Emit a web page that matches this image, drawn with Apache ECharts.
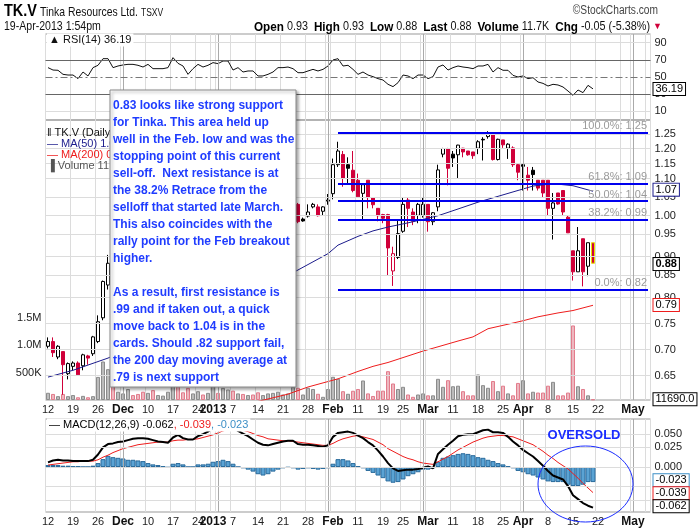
<!DOCTYPE html>
<html>
<head>
<meta charset="utf-8">
<script src="https://cdn.jsdelivr.net/npm/echarts@6/dist/echarts.min.js"></script>
<style>
  html, body { margin: 0; padding: 0; background: #fff; }
  #main { width: 700px; height: 530px; }
</style>
</head>
<body>
<div id="main"></div>
<script>
// trading calendar
var startDate = '2012-11-12';
var dayCount = 121;
var holidays = ['2012-12-25', '2012-12-26', '2013-01-01', '2013-02-18', '2013-03-29'];
var monthStarts = ['2012-12-03', '2013-01-02', '2013-02-01', '2013-03-01', '2013-04-01', '2013-05-01'];
var tickLabels = [
  ['2012-11-12', '12'], ['2012-11-19', '19'], ['2012-11-26', '26'], ['2012-12-03', 'Dec'],
  ['2012-12-10', '10'], ['2012-12-17', '17'], ['2012-12-24', '24'], ['2012-12-31', '2013'],
  ['2013-01-07', '7'], ['2013-01-14', '14'], ['2013-01-21', '21'], ['2013-01-28', '28'],
  ['2013-02-04', 'Feb'], ['2013-02-11', '11'], ['2013-02-19', '19'], ['2013-02-25', '25'],
  ['2013-03-04', 'Mar'], ['2013-03-11', '11'], ['2013-03-18', '18'], ['2013-03-25', '25'],
  ['2013-04-01', 'Apr'], ['2013-04-08', '8'], ['2013-04-15', '15'], ['2013-04-22', '22'],
  ['2013-05-01', 'May']
];

// daily prices, TK.V
var opens = [
  .704, .713, .684, .694, .654, .667, .673, .668, .686, .690,
  .713, .760, .830, .860, .850, .870, .880, .890, .885, .880,
  .870, .890, .870, .870, .875, .890, .970, .950, .930, .900,
  .930, .960, .950, .970, 1.000, .990, 1.030, 1.040, 1.000, 1.010,
  .990, 1.000, .990, .960, .960, .970, .990, 1.010, 1.010, 1.020,
  1.031, .991, .999, 1.024, 1.024, 1.012, 1.040, 1.061, 1.147, 1.179,
  1.147, 1.130, 1.100, 1.062, 1.100, 1.050, 1.020, 1.003, 1.003, .862,
  .894, .959, 1.043, 1.010, 1.001, 1.001, 1.031, .984, 1.024, 1.180,
  1.198, 1.180, 1.178, 1.199, 1.190, 1.187, 1.199, 1.228, 1.237, 1.248,
  1.163, 1.226, 1.199, 1.200, 1.147, 1.147, 1.115, 1.130, 1.100, 1.100,
  1.100, 1.020, 1.063, 1.070, .996, .910, .860, .940, .873, .930
];
var closes = [
  .713, .692, .704, .670, .672, .673, .652, .688, .682, .722,
  .752, .838, .880, .850, .870, .880, .890, .885, .880, .870,
  .890, .870, .870, .875, .880, .970, .950, .940, .900, .930,
  .960, .950, .970, 1.000, .990, 1.030, 1.040, 1.000, 1.010, .990,
  1.000, .990, .960, .960, .970, .990, 1.010, 1.010, 1.020, 1.030,
  .984, .986, 1.010, 1.031, 1.000, 1.024, 1.043, 1.147, 1.190, 1.106,
  1.136, 1.070, 1.052, 1.087, 1.050, 1.030, 1.000, .993, .917, .903,
  .953, 1.031, 1.020, .985, 1.031, 1.031, .984, 1.008, 1.131, 1.198,
  1.136, 1.168, 1.209, 1.187, 1.178, 1.175, 1.220, 1.226, 1.248, 1.163,
  1.228, 1.210, 1.212, 1.147, 1.124, 1.142, 1.100, 1.117, 1.077, 1.063,
  1.020, 1.035, 1.032, 1.010, .955, .860, .910, .860, .930, .880
];
var highs = [
  .721, .721, .706, .694, .674, .676, .676, .690, .688, .724,
  .765, .840, .900, .880, .880, .890, .900, .900, .890, .890,
  .900, .890, .880, .880, .890, .980, .980, .960, .940, .940,
  .970, .970, .980, 1.010, 1.010, 1.040, 1.050, 1.040, 1.020, 1.020,
  1.010, 1.000, .990, .970, .980, 1.000, 1.020, 1.020, 1.030, 1.040,
  1.035, .995, 1.031, 1.035, 1.031, 1.026, 1.060, 1.166, 1.220, 1.190,
  1.170, 1.190, 1.120, 1.090, 1.100, 1.050, 1.020, 1.005, 1.005, .920,
  .990, 1.050, 1.050, 1.020, 1.035, 1.050, 1.031, 1.010, 1.147, 1.200,
  1.200, 1.190, 1.210, 1.200, 1.190, 1.187, 1.225, 1.235, 1.255, 1.250,
  1.230, 1.226, 1.215, 1.205, 1.150, 1.150, 1.140, 1.140, 1.100, 1.100,
  1.100, 1.063, 1.063, 1.070, 1.000, .910, .970, .940, .930, .930
];
var lows = [
  .700, .684, .680, .618, .644, .660, .650, .660, .670, .686,
  .710, .755, .820, .830, .840, .860, .870, .870, .870, .860,
  .860, .860, .860, .860, .870, .890, .940, .930, .890, .900,
  .920, .940, .950, .960, .980, .990, 1.020, .990, .990, .980,
  .980, .970, .950, .950, .950, .960, .980, 1.000, 1.000, 1.010,
  .980, .984, .995, 1.020, .998, 1.000, 1.030, 1.045, 1.140, 1.081,
  1.088, 1.065, 1.050, .990, 1.020, 1.020, .985, .980, .852, .828,
  .890, .955, .970, .975, .980, .995, .958, .975, 1.012, 1.170,
  1.085, 1.140, 1.106, 1.170, 1.175, 1.165, 1.180, 1.160, 1.230, 1.160,
  1.160, 1.200, 1.165, 1.140, 1.100, 1.070, 1.070, 1.070, 1.070, 1.050,
  1.000, .938, 1.030, 1.000, .955, .840, .860, .827, .850, .880
];
var volumes = [
  131000, 110000, 70000, 110000, 70000, 90000, 50000, 75000, 50000, 70000,
  420000, 700000, 560000, 300000, 150000, 120000, 200000, 90000, 110000, 150000,
  130000, 180000, 90000, 80000, 150000, 600000, 250000, 140000, 220000, 120000,
  160000, 100000, 130000, 250000, 130000, 220000, 190000, 170000, 120000, 110000,
  90000, 100000, 140000, 90000, 120000, 130000, 150000, 100000, 120000, 240000,
  222000, 100000, 222000, 200000, 113000, 58000, 200000, 422000, 385000, 160000,
  113000, 168000, 200000, 355000, 120000, 73000, 170000, 170000, 524000, 300000,
  200000, 240000, 100000, 58000, 100000, 120000, 85000, 85000, 385000, 240000,
  360000, 250000, 260000, 160000, 85000, 85000, 464000, 270000, 222000, 345000,
  160000, 260000, 120000, 85000, 310000, 360000, 120000, 150000, 135000, 135000,
  260000, 330000, 85000, 85000, 135000, 1355000, 250000, 200000, 85000, 11690
];
// moving averages: [day index, value]
var ma50 = [[0, .648], [5, .660], [12, .682], [25, .740], [37, .800], [49, .858], [52, .877],
  [56, .903], [58, .924], [62, .946], [65, .960], [68, .970], [72, .981], [75, .990], [78, 1.000],
  [80, 1.009], [86, 1.037], [93, 1.066], [97, 1.083], [101, 1.090], [105, 1.084], [109, 1.068]];
var ma200 = [[42, .607], [48, .619], [52, .631], [55, .638], [58, .645], [62, .658], [65, .667],
  [68, .674], [75, .695], [78, .703], [82, .714], [85, .722], [88, .738], [92, .747], [95, .754],
  [98, .762], [102, .770], [105, .775], [109, .786]];
var rsi = [
  60.9, 58.1, 57.8, 53.1, 52.3, 52.3, 48.1, 55.8, 51.2, 60.9,
  63.6, 71.3, 71.3, 60.9, 62.8, 64.0, 64.7, 64.7, 63.6, 61.6,
  64.7, 59.7, 59.7, 59.7, 60.9, 72.5, 65.9, 62.8, 53.1, 59.7,
  64.7, 61.6, 63.6, 66.7, 65.5, 68.6, 68.6, 58.1, 60.9, 55.8,
  57.0, 57.0, 51.2, 51.2, 53.1, 55.8, 60.9, 60.9, 61.6, 59.7,
  55.0, 55.0, 57.0, 58.9, 57.0, 58.9, 62.8, 69.8, 71.3, 62.8,
  63.6, 58.9, 53.1, 55.8, 52.3, 50.4, 48.1, 46.5, 41.5, 38.8,
  43.4, 52.3, 51.2, 48.1, 52.3, 52.3, 48.1, 50.4, 61.6, 64.0,
  58.1, 60.9, 62.8, 61.6, 60.9, 59.7, 62.8, 62.8, 64.7, 55.8,
  60.9, 57.8, 57.8, 51.9, 50.0, 51.2, 48.1, 49.2, 44.2, 42.6,
  39.5, 41.5, 40.7, 38.4, 33.7, 28.7, 34.9, 31.8, 40.3, 36.19
];
var macd = [
  .007, .010, .011, .010, .010, .009, .009, .009, .009, .011,
  .019, .030, .035, .036, .038, .039, .041, .043, .044, .044,
  .043, .041, .039, .038, .037, .045, .049, .044, .042, .042,
  .047, .050, .054, .060, .065, .068, .068, .062, .055, .051,
  .047, .042, .037, .034, .033, .035, .037, .039, .040, .040,
  .035, .034, .034, .033, .032, .031, .033, .046, .052, .053,
  .054, .052, .048, .044, .038, .033, .025, .016, .006, -.002,
  -.006, -.005, -.004, -.004, -.003, -.001, .001, -.002, .020, .027,
  .034, .040, .047, .049, .050, .050, .053, .056, .057, .053,
  .053, .052, .046, .039, .033, .026, .021, .016, .009, .002,
  -.006, -.013, -.016, -.019, -.029, -.043, -.049, -.055, -.059, -.062
];
var signal = [
  .003, .004, .005, .006, .007, .008, .008, .009, .009, .009,
  .011, .015, .018, .022, .025, .028, .030, .032, .034, .035,
  .036, .037, .038, .038, .038, .040, .041, .041, .042, .042,
  .043, .045, .047, .049, .052, .055, .057, .058, .057, .056,
  .054, .051, .048, .046, .043, .042, .041, .040, .040, .039,
  .038, .037, .036, .035, .034, .033, .033, .036, .040, .043,
  .045, .047, .048, .046, .044, .042, .038, .034, .028, .024,
  .020, .016, .013, .011, .008, .006, .005, .004, .008, .012,
  .016, .021, .026, .030, .034, .038, .041, .044, .046, .047,
  .048, .048, .047, .046, .043, .040, .037, .034, .029, .024,
  .018, .013, .007, .002, -.003, -.010, -.017, -.025, -.032, -.039
];
var histogram = [
  .003, .003, .003, .002, .002, .001, .001, .000, .000, .002,
  .006, .012, .017, .015, .014, .013, .011, .011, .010, .009,
  .006, .004, .003, .001, -.001, .005, .006, .004, .000, .000,
  .004, .004, .005, .008, .009, .011, .009, .005, .000, -.002,
  -.004, -.007, -.011, -.013, -.011, -.007, -.004, -.002, -.001, -.002,
  -.004, -.003, -.002, -.003, -.004, -.003, -.002, .005, .012, .012,
  .010, .006, .001, -.002, -.006, -.009, -.013, -.017, -.022, -.024,
  -.023, -.019, -.014, -.011, -.008, -.004, -.004, -.002, .008, .014,
  .016, .018, .020, .021, .020, .018, .015, .014, .011, .009,
  .006, .004, .001, -.002, -.006, -.008, -.011, -.013, -.016, -.019,
  -.022, -.023, -.023, -.023, -.027, -.029, -.029, -.027, -.023, -.023
];
// Fibonacci retracement levels from Feb 5
var fibStart = 58;
var fibLevels = [['100.0%', 1.25], ['61.8%', 1.09], ['50.0%', 1.04], ['38.2%', 0.99], ['0.0%', 0.82]];
var priceTicks = [0.65, 0.70, 0.75, 0.80, 0.85, 0.90, 0.95, 1.00, 1.05, 1.10, 1.15, 1.20, 1.25];
var macdTicks = [0.05, 0.025, 0, -0.025, -0.05];
var noteLines = [
  '0.83 looks like strong support',
  'for Tinka. This area held up',
  'well in the Feb. low and was the',
  'stopping point of this current',
  'sell-off.  Next resistance is at',
  'the 38.2% Retrace from the',
  'selloff that started late March.',
  'This also coincides with the',
  'rally point for the Feb breakout',
  'higher.',
  '',
  'As a result, first resistance is',
  '.99 and if taken out, a quick',
  'move back to 1.04 is in the',
  'cards. Should .82 support fail,',
  'the 200 day moving average at',
  '.79 is next support'
];

var FONT = '"Liberation Sans", Arial, sans-serif';
var RED = '#d0003a';
var NAVY = '#1c1c8c';
var HIST = '#3d8fc6';

function buildDates() {
  var out = [];
  var d = new Date(startDate + 'T00:00:00Z');
  while (out.length < dayCount) {
    var s = d.toISOString().slice(0, 10);
    var wd = d.getUTCDay();
    if (wd !== 0 && wd !== 6 && holidays.indexOf(s) < 0) out.push(s);
    d.setUTCDate(d.getUTCDate() + 1);
  }
  return out;
}
var dates = buildDates();
var labelMap = {};
tickLabels.forEach(function (t) { labelMap[t[0]] = t[1]; });
var gridDay = dates.map(function (s, i) {
  if (i === 0) return true;
  var a = new Date(s + 'T00:00:00Z').getUTCDay();
  var b = new Date(dates[i - 1] + 'T00:00:00Z').getUTCDay();
  return a < b || monthStarts.indexOf(s) >= 0;
});

var ln = Math.log;
var LNMAX = ln(1.25) + 12.7 / 372;
var LNMIN = ln(1.25) - 267.3 / 372;
var last = opens.length - 1;

var candleData = opens.map(function (o, i) {
  var c = closes[i];
  var prev = i > 0 ? closes[i - 1] : o;
  var col = c < prev ? RED : '#000';
  var fill = c > o ? '#fff' : col;
  var border = i === last ? '#e8e000' : col;
  return {
    value: [ln(o), ln(c), ln(lows[i]), ln(highs[i])],
    itemStyle: { color: fill, color0: fill, borderColor: border, borderColor0: border }
  };
});
var volumeData = volumes.map(function (v, i) {
  var down = i > 0 && closes[i] < closes[i - 1];
  return {
    value: v,
    itemStyle: down ? { color: '#eeb8c0', borderColor: '#e27c8c', borderWidth: 1 }
                    : { color: '#bcbcbc', borderColor: '#8c8c8c', borderWidth: 1 }
  };
});

// last-value box on the right edge
function tag(y, text, border, bold) {
  return {
    yAxis: y,
    lineStyle: { color: 'rgba(0,0,0,0)', width: 0 },
    label: {
      show: true, position: 'end', distance: 3, formatter: text,
      backgroundColor: '#fff', borderColor: border, borderWidth: 1,
      padding: [1, 2, 0, 2], color: '#000', fontSize: 11, fontFamily: FONT,
      fontWeight: bold ? 'bold' : 'normal'
    }
  };
}
function monthLineData() {
  return monthStarts.map(function (m) {
    return { xAxis: m, lineStyle: { color: '#aaa', width: 1, type: 'solid' }, label: { show: false } };
  });
}

var xBase = function (gi, showLabels) {
  return {
    type: 'category', gridIndex: gi, data: dates, boundaryGap: true,
    axisLine: { show: false }, axisTick: { show: false },
    axisLabel: {
      show: showLabels, interval: function (i, v) { return labelMap[v] !== undefined; },
      formatter: function (v) {
        var t = labelMap[v] || '';
        return /^[A-Z]|2013/.test(t) ? '{b|' + t + '}' : t;
      },
      rich: { b: { fontWeight: 'bold', fontSize: 12, fontFamily: FONT, color: '#111' } },
      color: '#222', fontSize: 11, fontFamily: FONT, margin: 4
    },
    splitLine: { show: true, interval: function (i) { return gridDay[i]; }, lineStyle: { color: '#dcdcdc', width: 1 } }
  };
};

var priceGrid = priceTicks.map(function (p) {
  return {
    yAxis: ln(p), lineStyle: { color: '#dcdcdc', width: 1, type: 'solid' },
    label: { show: true, position: 'end', distance: 4, formatter: p.toFixed(2), color: '#222', fontSize: 11, fontFamily: FONT }
  };
});
var fibData = fibLevels.map(function (f) {
  return [
    { coord: [dates[fibStart], ln(f[1])] },
    { coord: [dates[dates.length - 1], ln(f[1])],
      label: { show: true, position: 'insideEndTop', formatter: f[0] + ': ' + f[1].toFixed(2), color: '#9a9a9a', fontSize: 11, fontFamily: FONT, distance: 1 } }
  ];
});
var macdGrid = macdTicks.map(function (v) {
  return {
    yAxis: v, lineStyle: { color: '#dcdcdc', width: 1, type: 'solid' },
    label: { show: true, position: 'end', distance: 4, formatter: v.toFixed(3), color: '#222', fontSize: 11, fontFamily: FONT }
  };
});

var chart = echarts.init(document.getElementById('main'));
chart.setOption({
  animation: false,
  backgroundColor: '#fff',
  grid: [
    { left: 45.5, top: 34, width: 605, height: 86, show: true, borderColor: '#999', borderWidth: 1 },
    { left: 45.5, top: 120, width: 605, height: 280, show: true, borderColor: '#999', borderWidth: 1 },
    { left: 45.5, top: 419, width: 605, height: 93, show: true, borderColor: '#999', borderWidth: 1 }
  ],
  xAxis: [xBase(0, false), xBase(1, true), xBase(2, true)],
  yAxis: [
    { type: 'value', gridIndex: 0, min: 0, max: 100, interval: 10, position: 'right',
      axisLine: { show: false }, axisTick: { show: false }, splitLine: { show: false },
      axisLabel: { formatter: function (v) { return v % 20 === 10 ? String(v) : ''; }, color: '#222', fontSize: 11, fontFamily: FONT, margin: 4 } },
    { type: 'value', gridIndex: 1, min: LNMIN, max: LNMAX, show: false },
    { type: 'value', gridIndex: 1, min: 0, max: 5090000, interval: 500000, position: 'left',
      axisLine: { show: false }, axisTick: { show: false }, splitLine: { show: false },
      axisLabel: { formatter: function (v) { return v === 500000 ? '500K' : v === 1000000 ? '1.0M' : v === 1500000 ? '1.5M' : ''; },
        color: '#222', fontSize: 11, fontFamily: FONT, margin: 4 } },
    { type: 'value', gridIndex: 2, min: -0.0686, max: 0.0732, show: false }
  ],
  series: [
    { name: 'RSI', type: 'line', xAxisIndex: 0, yAxisIndex: 0, data: rsi, symbol: 'none',
      lineStyle: { color: '#111', width: 1 }, z: 3,
      markLine: { silent: true, symbol: ['none', 'none'], animation: false,
        data: monthLineData().concat([
          { yAxis: 90, lineStyle: { color: '#dcdcdc', width: 1, type: 'solid' }, label: { show: false } },
          { yAxis: 10, lineStyle: { color: '#dcdcdc', width: 1, type: 'solid' }, label: { show: false } },
          { yAxis: 70, lineStyle: { color: '#666', width: 1, type: 'solid' }, label: { show: false } },
          { yAxis: 30, lineStyle: { color: '#666', width: 1, type: 'solid' }, label: { show: false } },
          { yAxis: 50, lineStyle: { color: '#777', width: 1, type: [7, 3, 2, 3] }, label: { show: false } },
          tag(rsi[last], rsi[last].toFixed(2), '#000', false)
        ]) } },
    { name: 'pricegrid', type: 'line', xAxisIndex: 1, yAxisIndex: 1, data: [], z: 1,
      markLine: { silent: true, symbol: ['none', 'none'], animation: false, data: priceGrid } },
    { name: 'Volume', type: 'bar', xAxisIndex: 1, yAxisIndex: 2, data: volumeData, barWidth: 4, z: 1,
      markLine: { silent: true, symbol: ['none', 'none'], animation: false,
        data: monthLineData().concat([tag(volumes[last], volumes[last].toFixed(1), '#000', false)]) } },
    { name: 'TK.V', type: 'candlestick', xAxisIndex: 1, yAxisIndex: 1, data: candleData, barWidth: 4, z: 3,
      markLine: { silent: true, symbol: ['none', 'none'], animation: false,
        lineStyle: { color: '#0000ee', width: 2, type: 'solid' },
        data: fibData.concat([tag(ln(closes[last]), closes[last].toFixed(2), '#000', true)]) } },
    { name: 'MA(50)', type: 'line', xAxisIndex: 1, yAxisIndex: 1, symbol: 'none', z: 4,
      data: ma50.map(function (p) { return [p[0], ln(p[1])]; }), lineStyle: { color: NAVY, width: 1 },
      markLine: { silent: true, symbol: ['none', 'none'], animation: false,
        data: [tag(ln(ma50[ma50.length - 1][1]), ma50[ma50.length - 1][1].toFixed(2), NAVY, false)] } },
    { name: 'MA(200)', type: 'line', xAxisIndex: 1, yAxisIndex: 1, symbol: 'none', z: 4,
      data: ma200.map(function (p) { return [p[0], ln(p[1])]; }), lineStyle: { color: '#ee1c1c', width: 1 },
      markLine: { silent: true, symbol: ['none', 'none'], animation: false,
        data: [tag(ln(ma200[ma200.length - 1][1]), ma200[ma200.length - 1][1].toFixed(2), '#ee1c1c', false)] } },
    { name: 'Histogram', type: 'bar', xAxisIndex: 2, yAxisIndex: 3, data: histogram, barWidth: 5, z: 2,
      itemStyle: { color: '#5aa3d4', borderColor: '#2a6b9c', borderWidth: 1 },
      markLine: { silent: true, symbol: ['none', 'none'], animation: false,
        data: monthLineData().concat(macdGrid, [tag(histogram[last], histogram[last].toFixed(3), HIST, false)]) } },
    { name: 'Signal', type: 'line', xAxisIndex: 2, yAxisIndex: 3, data: signal, symbol: 'none', z: 3,
      lineStyle: { color: '#ee1c1c', width: 1 },
      markLine: { silent: true, symbol: ['none', 'none'], animation: false,
        data: [tag(signal[last], signal[last].toFixed(3), '#ee1c1c', false)] } },
    { name: 'MACD', type: 'line', xAxisIndex: 2, yAxisIndex: 3, data: macd, symbol: 'none', z: 4,
      lineStyle: { color: '#000', width: 2 },
      markLine: { silent: true, symbol: ['none', 'none'], animation: false,
        data: [tag(macd[last], macd[last].toFixed(3), '#000', false)] } }
  ],
  graphic: [
    { type: 'text', x: 4, y: 11, z: 50, scaleX: 0.85, style: { text: 'TK.V', font: 'bold 17px ' + FONT, fill: '#000', verticalAlign: 'middle' } },
    { type: 'text', x: 40, y: 12, z: 50, scaleX: 0.8, style: { text: 'Tinka Resources Ltd.', font: '13px ' + FONT, fill: '#111', verticalAlign: 'middle' } },
    { type: 'text', x: 141, y: 13, z: 50, scaleX: 0.85, style: { text: 'TSXV', font: '10px ' + FONT, fill: '#111', verticalAlign: 'middle' } },
    { type: 'text', x: 658, y: 11, z: 50, scaleX: 0.85, style: { text: '\u00a9StockCharts.com', font: '12px ' + FONT, fill: '#444', align: 'right', verticalAlign: 'middle' } },
    { type: 'text', x: 4, y: 27, z: 50, scaleX: 0.88, style: { text: '19-Apr-2013 1:54pm', font: '12px ' + FONT, fill: '#111', verticalAlign: 'middle' } },
    { type: 'text', x: 650, y: 27, z: 50, scaleX: 0.9, style: {
        text: '{b|Open} 0.93  {b|High} 0.93  {b|Low} 0.88  {b|Last} 0.88  {b|Volume} 11.7K  {b|Chg} -0.05 (-5.38%)',
        font: '12px ' + FONT, fill: '#111', align: 'right', verticalAlign: 'middle',
        rich: { b: { fontWeight: 'bold', fontSize: 13, fontFamily: FONT, fill: '#000' } } } },
    { type: 'text', x: 653, y: 27, z: 50, style: { text: '\u25bc', font: '9px ' + FONT, fill: RED, verticalAlign: 'middle' } },
    // RSI legend
    { type: 'text', x: 47, y: 40, z: 50, style: { text: '\u25b2 RSI(14) 36.19', font: '11px ' + FONT, fill: '#111', verticalAlign: 'middle',
        backgroundColor: '#fff', padding: [1, 2] } },
    // price legend
    { type: 'text', x: 47, y: 133, z: 50, style: { text: '\u2016 TK.V (Daily) 0.88', font: '11px ' + FONT, fill: '#111', verticalAlign: 'middle' } },
    { type: 'text', x: 47, y: 144, z: 50, style: { text: '\u2014 MA(50) 1.07', font: '11px ' + FONT, fill: NAVY, verticalAlign: 'middle' } },
    { type: 'text', x: 47, y: 155, z: 50, style: { text: '\u2014 MA(200) 0.79', font: '11px ' + FONT, fill: '#ee1c1c', verticalAlign: 'middle' } },
    { type: 'text', x: 47, y: 166, z: 50, style: { text: '\u2590 Volume 11,690', font: '11px ' + FONT, fill: '#555', verticalAlign: 'middle' } },
    // MACD legend
    { type: 'text', x: 47, y: 425, z: 50, style: {
        text: '{k|\u2014 MACD(12,26,9) -0.062}{r|, -0.039}{c|, -0.023}', font: '11px ' + FONT, verticalAlign: 'middle',
        backgroundColor: '#fff', padding: [1, 2],
        rich: { k: { fill: '#000', fontSize: 11, fontFamily: FONT }, r: { fill: '#ee1c1c', fontSize: 11, fontFamily: FONT }, c: { fill: HIST, fontSize: 11, fontFamily: FONT } } } },
    // annotation box
    { type: 'rect', z: 100, shape: { x: 110, y: 90, width: 186, height: 297 },
      style: { fill: '#fff', stroke: '#8a8a8a', lineWidth: 1, shadowBlur: 3, shadowOffsetX: 2, shadowOffsetY: 2, shadowColor: 'rgba(0,0,0,0.35)' } },
    { type: 'text', z: 101, x: 113, y: 97, style: { text: noteLines.join('\n'), font: 'bold 12px ' + FONT, fill: '#1f3cff', lineHeight: 17 } },
    // oversold circle
    { type: 'ellipse', z: 60, shape: { cx: 585.5, cy: 484, rx: 47.5, ry: 38 }, style: { fill: 'none', stroke: '#1a2cff', lineWidth: 1 } },
    { type: 'text', x: 584, y: 435, z: 60, style: { text: 'OVERSOLD', font: 'bold 13px ' + FONT, fill: '#1a2cff', align: 'center', verticalAlign: 'middle' } }
  ]
});
</script>
</body>
</html>
